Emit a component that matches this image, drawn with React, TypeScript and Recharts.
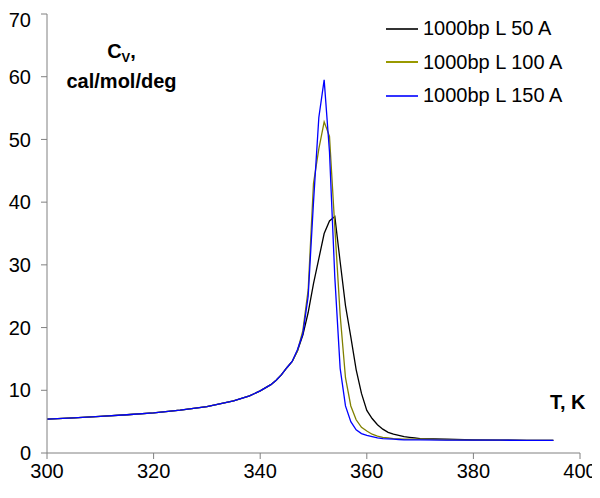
import { LineChart, Line, XAxis, YAxis } from 'recharts'

// temperature, K
const temps = [
  300, 305, 310, 315, 320, 325, 330, 335, 338, 340, 342, 343, 344, 345, 346,
  347, 348, 349, 350, 351, 352, 353, 354, 355, 356, 357, 358, 359, 360, 361,
  362, 363, 364, 365, 366, 367, 368, 369, 370, 375, 380, 385, 390, 395,
]

// Cv, cal/mol/deg
const l50 = [
  5.4, 5.6, 5.85, 6.1, 6.4, 6.85, 7.4, 8.3, 9.1, 9.9, 10.9, 11.6, 12.5, 13.6, 14.6,
  16.3, 18.8, 22.4, 27, 31, 35, 37, 37.7, 30.5, 23.5, 18.5, 13.3, 9.5, 6.8, 5.5,
  4.5, 3.8, 3.3, 3.0, 2.8, 2.6, 2.5, 2.4, 2.3, 2.2, 2.1, 2.05, 2.0, 2.0,
]
const l100 = [
  5.4, 5.6, 5.85, 6.1, 6.4, 6.85, 7.4, 8.3, 9.1, 9.9, 10.9, 11.6, 12.5, 13.6, 14.6,
  16.3, 19.5, 26, 43, 48.5, 52.8, 50.5, 36, 22, 12, 7.5, 5.3, 4.1, 3.5, 3.0,
  2.7, 2.5, 2.4, 2.3, 2.25, 2.2, 2.2, 2.2, 2.2, 2.1, 2.05, 2.05, 2.0, 2.0,
]
const l150 = [
  5.4, 5.6, 5.85, 6.1, 6.4, 6.85, 7.4, 8.3, 9.1, 9.9, 10.9, 11.6, 12.5, 13.6, 14.6,
  16.5, 19, 25, 40, 53.5, 59.5, 48, 28, 13.5, 7.5, 5.0, 3.7, 3.1, 2.8, 2.6,
  2.4, 2.3, 2.25, 2.2, 2.15, 2.1, 2.1, 2.1, 2.1, 2.05, 2.05, 2.05, 2.0, 2.0,
]

const xTicks = [300, 320, 340, 360, 380, 400]
const yTicks = [0, 10, 20, 30, 40, 50, 60, 70]

const series = [
  { key: 'l50', name: '1000bp L 50 A', color: '#000000', legend: '#333333' },
  { key: 'l100', name: '1000bp L 100 A', color: '#808000', legend: '#999900' },
  { key: 'l150', name: '1000bp L 150 A', color: '#0000ff', legend: '#3333ff' },
]

const data = temps.map((t, i) => ({ t, l50: l50[i], l100: l100[i], l150: l150[i] }))

const FONT = '"Liberation Sans", Arial, sans-serif'

export default function App() {
  const tick = { fill: '#000', fontSize: 20, fontFamily: FONT }
  return (
    <div style={{ position: 'relative', width: 592, height: 490, fontFamily: FONT }}>
      <LineChart
        width={592}
        height={490}
        data={data}
        margin={{ top: 6, right: 20, bottom: 15, left: 0 }}
        style={{ overflow: 'visible' }}
      >
        <XAxis
          dataKey="t"
          type="number"
          domain={[300, 400]}
          ticks={xTicks}
          tick={tick}
          tickSize={6}
          tickMargin={5}
          height={30}
          stroke="#808080"
          allowDataOverflow
        />
        <YAxis
          domain={[0, 70]}
          ticks={yTicks}
          tick={tick}
          tickSize={6}
          tickMargin={10}
          width={39}
          stroke="#808080"
          allowDataOverflow
        />
        {series.map(s => (
          <Line
            key={s.key}
            type="linear"
            dataKey={s.key}
            name={s.name}
            stroke={s.color}
            strokeWidth={1.3}
            dot={false}
            isAnimationActive={false}
          />
        ))}
      </LineChart>
      <div style={{ position: 'absolute', top: 4, left: 378, fontSize: 20, color: '#000' }}>
        {series.map(s => (
          <div key={s.key} style={{ display: 'flex', alignItems: 'center', height: 33.5 }}>
            <div style={{ width: 32, height: 0, borderTop: `2px solid ${s.legend}`, marginRight: 5 }} />
            <span>{s.name}</span>
          </div>
        ))}
      </div>
      <div
        style={{
          position: 'absolute', left: 53, top: 28, width: 121, textAlign: 'center',
          fontSize: 20, fontWeight: 'bold', lineHeight: '30px', color: '#000',
        }}
      >
        <div>C<sub style={{ fontSize: 13, verticalAlign: '-4px', lineHeight: 0 }}>V</sub>,</div>
        <div>cal/mol/deg</div>
      </div>
      <div
        style={{
          position: 'absolute', left: 542, top: 384, fontSize: 20, fontWeight: 'bold',
          lineHeight: '20px', color: '#000',
        }}
      >
        T, K
      </div>
    </div>
  )
}
